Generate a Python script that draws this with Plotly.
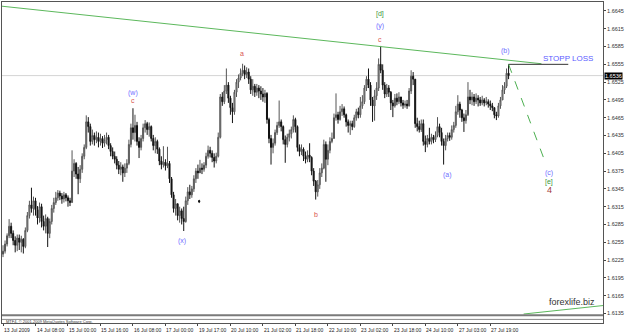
import plotly.graph_objects as go

# ---------------- data ----------------
first_open = 1.6235
closes = [
    1.6240,1.6252,1.6266,1.6282,1.6270,1.6258,1.6250,1.6262,1.6255,1.6260,
    1.6248,1.6275,1.6300,1.6318,1.6312,1.6325,1.6310,1.6296,1.6315,1.6290,
    1.6282,1.6295,1.6270,1.6290,1.6312,1.6322,1.6330,1.6338,1.6333,1.6328,
    1.6335,1.6330,1.6325,1.6322,1.6375,1.6388,1.6370,1.6362,1.6378,1.6400,
    1.6415,1.6458,1.6450,1.6425,1.6435,1.6428,1.6432,1.6425,1.6430,1.6422,
    1.6428,1.6432,1.6418,1.6408,1.6400,1.6395,1.6385,1.6378,1.6382,1.6372,
    1.6380,1.6388,1.6420,1.6448,1.6440,1.6452,1.6425,1.6415,1.6430,1.6448,
    1.6455,1.6445,1.6450,1.6430,1.6418,1.6425,1.6412,1.6392,1.6386,1.6390,
    1.6384,1.6388,1.6362,1.6335,1.6312,1.6320,1.6300,1.6308,1.6295,1.6290,
    1.6325,1.6340,1.6335,1.6345,1.6362,1.6375,1.6372,1.6380,1.6378,1.6385,
    1.6400,1.6410,1.6405,1.6398,1.6392,1.6400,1.6432,1.6500,1.6492,1.6510,
    1.6520,1.6498,1.6482,1.6475,1.6508,1.6525,1.6532,1.6540,1.6545,1.6538,
    1.6542,1.6530,1.6512,1.6518,1.6508,1.6515,1.6510,1.6505,1.6500,1.6506,
    1.6462,1.6430,1.6415,1.6422,1.6440,1.6452,1.6458,1.6450,1.6428,1.6420,
    1.6432,1.6438,1.6445,1.6462,1.6450,1.6415,1.6408,1.6412,1.6400,1.6395,
    1.6402,1.6398,1.6375,1.6358,1.6340,1.6352,1.6372,1.6380,1.6420,1.6395,
    1.6410,1.6425,1.6430,1.6465,1.6470,1.6462,1.6475,1.6480,1.6470,1.6458,
    1.6452,1.6455,1.6450,1.6465,1.6475,1.6470,1.6485,1.6492,1.6515,1.6530,
    1.6520,1.6495,1.6485,1.6502,1.6515,1.6555,1.6545,1.6520,1.6505,1.6515,
    1.6508,1.6490,1.6485,1.6498,1.6492,1.6500,1.6490,1.6486,1.6488,1.6485,
    1.6510,1.6535,1.6530,1.6455,1.6450,1.6445,1.6455,1.6425,1.6420,1.6430,
    1.6425,1.6432,1.6428,1.6435,1.6450,1.6440,1.6425,1.6418,1.6430,1.6435,
    1.6432,1.6445,1.6452,1.6475,1.6488,1.6478,1.6465,1.6460,1.6470,1.6500,
    1.6495,1.6500,1.6492,1.6498,1.6495,1.6490,1.6495,1.6490,1.6492,1.6488,
    1.6485,1.6482,1.6470,1.6468,1.6485,1.6495,1.6512,1.6518,1.6540,1.6536,
]
highs = [
    1.6250,1.6258,1.6270,1.6294,1.6288,1.6275,1.6265,1.6268,1.6268,1.6266,
    1.6262,1.6280,1.6306,1.6325,1.6347,1.6332,1.6330,1.6316,1.6322,1.6320,
    1.6300,1.6302,1.6298,1.6295,1.6318,1.6330,1.6340,1.6343,1.6342,1.6338,
    1.6340,1.6338,1.6334,1.6330,1.6410,1.6395,1.6390,1.6382,1.6385,1.6405,
    1.6420,1.6469,1.6466,1.6455,1.6445,1.6440,1.6442,1.6440,1.6438,1.6434,
    1.6436,1.6440,1.6436,1.6422,1.6415,1.6408,1.6400,1.6392,1.6390,1.6386,
    1.6388,1.6395,1.6428,1.6455,1.6481,1.6470,1.6458,1.6432,1.6436,1.6455,
    1.6461,1.6458,1.6457,1.6452,1.6436,1.6432,1.6428,1.6415,1.6400,1.6417,
    1.6395,1.6416,1.6392,1.6365,1.6340,1.6328,1.6318,1.6315,1.6312,1.6315,
    1.6332,1.6348,1.6352,1.6350,1.6368,1.6380,1.6386,1.6394,1.6388,1.6390,
    1.6406,1.6418,1.6416,1.6410,1.6405,1.6406,1.6440,1.6505,1.6508,1.6520,
    1.6548,1.6525,1.6502,1.6490,1.6512,1.6530,1.6538,1.6548,1.6556,1.6553,
    1.6550,1.6548,1.6535,1.6530,1.6522,1.6522,1.6520,1.6518,1.6515,1.6512,
    1.6508,1.6465,1.6436,1.6430,1.6445,1.6458,1.6494,1.6462,1.6452,1.6435,
    1.6438,1.6445,1.6450,1.6469,1.6465,1.6452,1.6420,1.6420,1.6415,1.6408,
    1.6410,1.6422,1.6400,1.6380,1.6360,1.6360,1.6380,1.6388,1.6428,1.6425,
    1.6420,1.6432,1.6440,1.6472,1.6506,1.6475,1.6485,1.6488,1.6484,1.6472,
    1.6462,1.6460,1.6460,1.6470,1.6480,1.6482,1.6500,1.6503,1.6520,1.6535,
    1.6548,1.6525,1.6500,1.6512,1.6525,1.6565,1.6586,1.6555,1.6525,1.6522,
    1.6520,1.6510,1.6495,1.6505,1.6506,1.6508,1.6500,1.6495,1.6494,1.6495,
    1.6515,1.6545,1.6542,1.6530,1.6465,1.6460,1.6462,1.6462,1.6435,1.6436,
    1.6448,1.6438,1.6436,1.6442,1.6466,1.6455,1.6448,1.6430,1.6436,1.6440,
    1.6440,1.6452,1.6458,1.6485,1.6503,1.6492,1.6480,1.6472,1.6478,1.6525,
    1.6512,1.6508,1.6505,1.6506,1.6503,1.6500,1.6502,1.6498,1.6500,1.6496,
    1.6494,1.6490,1.6482,1.6475,1.6490,1.6500,1.6520,1.6525,1.6548,1.6555,
]
lows = [
    1.6230,1.6236,1.6248,1.6262,1.6262,1.6250,1.6238,1.6240,1.6242,1.6238,
    1.6236,1.6245,1.6272,1.6295,1.6305,1.6300,1.6300,1.6285,1.6288,1.6280,
    1.6275,1.6270,1.6247,1.6262,1.6285,1.6305,1.6318,1.6325,1.6326,1.6320,
    1.6322,1.6324,1.6315,1.6316,1.6322,1.6365,1.6362,1.6336,1.6355,1.6372,
    1.6395,1.6412,1.6440,1.6418,1.6420,1.6418,1.6422,1.6415,1.6418,1.6414,
    1.6416,1.6420,1.6412,1.6400,1.6395,1.6388,1.6378,1.6370,1.6368,1.6357,
    1.6365,1.6372,1.6385,1.6415,1.6428,1.6425,1.6418,1.6397,1.6410,1.6425,
    1.6440,1.6436,1.6433,1.6425,1.6410,1.6405,1.6404,1.6385,1.6378,1.6381,
    1.6376,1.6380,1.6355,1.6330,1.6305,1.6300,1.6292,1.6288,1.6285,1.6274,
    1.6288,1.6318,1.6328,1.6330,1.6340,1.6355,1.6362,1.6372,1.6370,1.6374,
    1.6380,1.6396,1.6398,1.6390,1.6381,1.6388,1.6398,1.6430,1.6485,1.6488,
    1.6505,1.6490,1.6470,1.6456,1.6470,1.6500,1.6515,1.6528,1.6535,1.6530,
    1.6532,1.6522,1.6505,1.6502,1.6500,1.6502,1.6498,1.6495,1.6492,1.6490,
    1.6455,1.6422,1.6386,1.6405,1.6418,1.6436,1.6448,1.6442,1.6420,1.6389,
    1.6415,1.6425,1.6430,1.6440,1.6440,1.6408,1.6400,1.6402,1.6392,1.6388,
    1.6390,1.6390,1.6368,1.6350,1.6327,1.6332,1.6345,1.6365,1.6378,1.6357,
    1.6385,1.6405,1.6422,1.6430,1.6460,1.6455,1.6460,1.6468,1.6465,1.6450,
    1.6440,1.6436,1.6444,1.6448,1.6460,1.6464,1.6465,1.6480,1.6488,1.6510,
    1.6515,1.6485,1.6458,1.6460,1.6495,1.6510,1.6540,1.6512,1.6498,1.6500,
    1.6500,1.6478,1.6466,1.6482,1.6486,1.6488,1.6484,1.6480,1.6482,1.6480,
    1.6484,1.6505,1.6520,1.6448,1.6442,1.6440,1.6441,1.6418,1.6407,1.6415,
    1.6420,1.6420,1.6422,1.6424,1.6432,1.6432,1.6418,1.6386,1.6410,1.6425,
    1.6426,1.6428,1.6440,1.6448,1.6470,1.6465,1.6458,1.6441,1.6455,1.6468,
    1.6488,1.6486,1.6485,1.6488,1.6484,1.6485,1.6486,1.6484,1.6486,1.6482,
    1.6478,1.6476,1.6464,1.6461,1.6465,1.6480,1.6495,1.6505,1.6515,1.6530,
]
x_tick_bars = [0, 16, 32, 48, 64, 80, 96, 112, 128, 144, 160, 176, 192, 208, 224, 240]
x_tick_labels = ["13 Jul 2009", "14 Jul 08:00", "15 Jul 00:00", "15 Jul 16:00",
                 "16 Jul 08:00", "17 Jul 00:00", "19 Jul 17:00", "20 Jul 10:00",
                 "21 Jul 02:00", "21 Jul 18:00", "22 Jul 10:00", "23 Jul 02:00",
                 "23 Jul 18:00", "24 Jul 10:00", "27 Jul 03:00", "27 Jul 19:00"]
y_tick_vals = [1.6135, 1.6165, 1.6195, 1.6225, 1.6255, 1.6285, 1.6315, 1.6345,
               1.6375, 1.6405, 1.6435, 1.6465, 1.6495, 1.6525, 1.6555, 1.6585,
               1.6615, 1.6645]
current_price = 1.6536
trend_line = [(-0.5, 1.6653), (265.2, 1.6556)]
projection = [(249, 1.6555), (267.6, 1.6385)]
stop_line = [(248.9, 1.6555), (278.4, 1.6555)]
bottom_line = [(256.4, 1.6134), (295.5, 1.61483)]
# wave labels: (text, bar, price, colour, size)
BLUE, RED, GREEN, DRED = "#6f6fff", "#d9534f", "#3c9a3c", "#a33a3a"
wave_labels = [
    ("(w)", 64.1, 1.6506, BLUE, 7), ("c", 64.1, 1.6494, RED, 7),
    ("(x)", 88.1, 1.6257, BLUE, 7),
    ("a", 117.5, 1.6573, RED, 7),
    ("[d]", 185.8, 1.6640, GREEN, 7), ("(y)", 185.8, 1.6619, BLUE, 7), ("c", 185.8, 1.6597, RED, 7),
    ("b", 154.3, 1.6302, RED, 7),
    ("(a)", 218.8, 1.6369, BLUE, 7),
    ("(b)", 247.7, 1.6578, BLUE, 7),
    ("(c)", 269.0, 1.6371, BLUE, 7), ("[e]", 269.0, 1.6356, GREEN, 7), ("4", 269.0, 1.6343, DRED, 9),
]

# ---------------- figure ----------------
bars = list(range(len(closes)))
opens = [first_open] + closes[:-1]
hi = [max(h, o, c) for h, o, c in zip(highs, opens, closes)]
lo = [min(l, o, c) for l, o, c in zip(lows, opens, closes)]

fig = go.Figure()
fig.add_trace(go.Candlestick(
    x=bars, open=opens, high=hi, low=lo, close=closes,
    increasing=dict(line=dict(color="#555555", width=1), fillcolor="#b0b0b0"),
    decreasing=dict(line=dict(color="#111111", width=1), fillcolor="#111111"),
    whiskerwidth=0, showlegend=False, hoverinfo="skip"))

FONT = "Liberation Sans, Arial, sans-serif"
shapes = []
shapes.append(dict(type="line", xref="paper", x0=0, x1=1, yref="y", y0=current_price, y1=current_price,
                   line=dict(color="#d4d4d4", width=1), layer="below"))
shapes.append(dict(type="line", x0=trend_line[0][0], y0=trend_line[0][1], x1=trend_line[1][0], y1=trend_line[1][1],
                   line=dict(color="#5cb85c", width=1)))
shapes.append(dict(type="line", x0=stop_line[0][0], y0=stop_line[0][1], x1=stop_line[1][0], y1=stop_line[1][1],
                   line=dict(color="#333333", width=1)))
shapes.append(dict(type="line", x0=projection[0][0], y0=projection[0][1], x1=projection[1][0], y1=projection[1][1],
                   line=dict(color="#4caf50", width=1, dash="dash")))
shapes.append(dict(type="line", x0=bottom_line[0][0], y0=bottom_line[0][1], x1=bottom_line[1][0], y1=bottom_line[1][1],
                   line=dict(color="#5cb85c", width=1)))
# separator band / sub-window lines at the bottom
shapes.append(dict(type="rect", xref="paper", yref="paper", x0=0, x1=1, y0=0.0208, y1=0.0275,
                   fillcolor="#7a7a7a", line=dict(width=0)))
shapes.append(dict(type="line", xref="paper", yref="paper", x0=0, x1=1, y0=0.0112, y1=0.0112,
                   line=dict(color="#8a8a8a", width=1)))
# small dot
shapes.append(dict(type="circle", x0=96.3, x1=96.9, y0=1.6322, y1=1.6326,
                   fillcolor="#000000", line=dict(color="#000000", width=1)))

annotations = []
for xb, txt in zip(x_tick_bars, x_tick_labels):
    annotations.append(dict(x=xb, y=-0.022, xref="x", yref="paper", text=txt, showarrow=False,
                            xanchor="left", yanchor="middle", xshift=-1,
                            font=dict(family=FONT, size=5, color="#222222")))
for txt, xb, p, col, sz in wave_labels:
    annotations.append(dict(x=xb, y=p, text=txt, showarrow=False, xanchor="center", yanchor="middle",
                            font=dict(family=FONT, size=sz, color=col)))
annotations.append(dict(x=278.2, y=1.65644, text="STOPP LOSS", showarrow=False, xanchor="center",
                        yanchor="middle", font=dict(family=FONT, size=8, color="#5b5bff")))
annotations.append(dict(x=280.4, y=1.6155, text="forexlife.biz", showarrow=False, xanchor="center",
                        yanchor="middle", font=dict(family=FONT, size=9, color="#333333")))
annotations.append(dict(x=0.004, y=0.0062, xref="paper", yref="paper", text="MTF4, © 2001-2009 MetaQuotes Software Corp.",
                        showarrow=False, xanchor="left", yanchor="middle",
                        font=dict(family=FONT, size=4, color="#333333")))
annotations.append(dict(x=1, y=current_price, xref="paper", yref="y", text="1.6536", showarrow=False,
                        xanchor="left", yanchor="middle", xshift=1, bgcolor="#000000", borderpad=0,
                        font=dict(family=FONT, size=5.5, color="#ffffff")))

fig.update_layout(
    width=625, height=334,
    margin=dict(l=1, r=20, t=1, b=11),
    paper_bgcolor="#ffffff", plot_bgcolor="#ffffff",
    shapes=shapes, annotations=annotations,
    showlegend=False,
    xaxis=dict(range=[-0.5, 295.5], showgrid=False, zeroline=False,
               tickvals=x_tick_bars, ticks="outside", ticklen=2, tickcolor="#444444",
               showticklabels=False, showline=True, linecolor="#555555", mirror=True,
               rangeslider=dict(visible=False), fixedrange=True),
    yaxis=dict(side="right", range=[1.61189, 1.66601], showgrid=False, zeroline=False,
               tickvals=y_tick_vals, ticktext=[f"{v:.4f}" for v in y_tick_vals],
               ticks="outside", ticklen=2, tickcolor="#444444",
               tickfont=dict(family=FONT, size=5.5, color="#333333"),
               showline=True, linecolor="#555555", mirror=True, fixedrange=True),
)

fig.write_html("out.html")
